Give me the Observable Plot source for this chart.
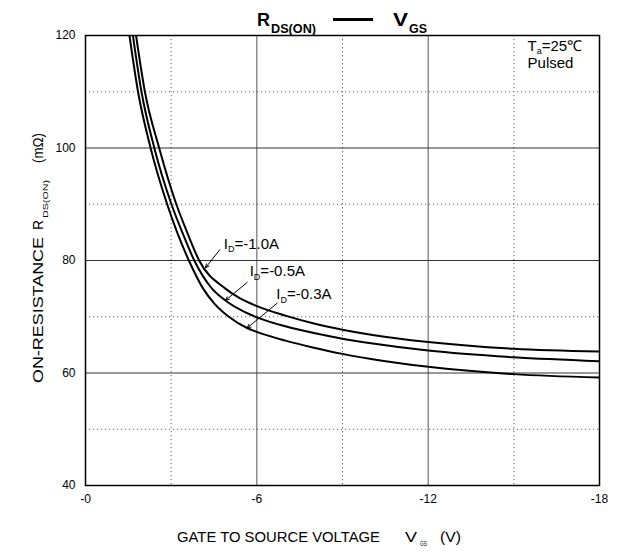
<!DOCTYPE html>
<html><head><meta charset="utf-8">
<script src="https://cdn.jsdelivr.net/npm/d3@7"></script>
<script src="https://cdn.jsdelivr.net/npm/@observablehq/plot@0.6"></script>
<style>
body{margin:0;background:#fff;font-family:"Liberation Sans",Arial,sans-serif;}
#wrap{position:relative;width:622px;height:552px;overflow:hidden;background:#fff}
#chart{position:absolute;left:0;top:20px}
#overlay{position:absolute;left:0;top:0;pointer-events:none}
</style></head><body>
<div id="wrap">
<div id="chart"></div>
<svg id="overlay" width="622" height="552" font-family="Liberation Sans, Arial, sans-serif">
  <text x="257" y="26" font-size="19" font-weight="bold" textLength="13" lengthAdjust="spacingAndGlyphs">R</text>
  <text x="271" y="32.5" font-size="12" font-weight="bold" textLength="45" lengthAdjust="spacingAndGlyphs">DS(ON)</text>
  <line x1="333" x2="373" y1="19.5" y2="19.5" stroke="black" stroke-width="3"></line>
  <text x="393" y="26" font-size="19" font-weight="bold" textLength="15" lengthAdjust="spacingAndGlyphs">V</text>
  <text x="409" y="32.5" font-size="12" font-weight="bold" textLength="18" lengthAdjust="spacingAndGlyphs">GS</text>

  <text x="177" y="542" font-size="15" textLength="203" lengthAdjust="spacingAndGlyphs">GATE TO SOURCE VOLTAGE</text>
  <text x="405" y="542" font-size="15" textLength="12" lengthAdjust="spacingAndGlyphs">V</text>
  <text x="420" y="546" font-size="7" textLength="7" lengthAdjust="spacingAndGlyphs">GS</text>
  <text x="440" y="542" font-size="15" textLength="21" lengthAdjust="spacingAndGlyphs">(V)</text>

  <text transform="translate(43,383) rotate(-90)" font-size="15" textLength="146" lengthAdjust="spacingAndGlyphs">ON-RESISTANCE</text>
  <text transform="translate(43,230) rotate(-90)" font-size="15" textLength="10" lengthAdjust="spacingAndGlyphs">R</text>
  <text transform="translate(47.5,218) rotate(-90)" font-size="8" textLength="38" lengthAdjust="spacingAndGlyphs">DS(ON)</text>
  <text transform="translate(43,163) rotate(-90)" font-size="15" textLength="30" lengthAdjust="spacingAndGlyphs">(mΩ)</text>
</svg>
</div>
<script>
// Gate-source voltage (V) and on-resistance (mΩ) for each drain current
const vgs_1_0 = [-1.77, -2.08, -2.58, -3.18, -3.56, -3.98, -4.9, -5.4, -6, -7, -8, -9, -10, -12, -15, -18];
const rds_1_0 = [120, 110, 100, 90, 85, 80, 75, 73.3, 71.9, 70.2, 68.8, 67.7, 66.8, 65.5, 64.3, 63.8];
const vgs_0_5 = [-1.66, -1.96, -2.41, -3.01, -3.39, -3.81, -4.43, -4.9, -5.4, -6, -7, -8, -9, -10, -12, -15, -18];
const rds_0_5 = [120, 110, 100, 90, 85, 80, 75, 72.9, 71.3, 69.9, 68.3, 67.1, 66.1, 65.3, 64.0, 62.8, 62.1];
const vgs_0_3 = [-1.54, -1.84, -2.28, -2.86, -3.21, -3.62, -4.12, -4.52, -5.02, -5.66, -6, -7, -8, -9, -10, -12, -15, -18];
const rds_0_3 = [120, 110, 100, 90, 85, 80, 75, 72.3, 70, 68.0, 67.3, 65.75, 64.5, 63.4, 62.5, 61.1, 59.8, 59.2];

const seriesNames = ["ID=-1.0A", "ID=-0.5A", "ID=-0.3A"];
const xTicks = [0, -6, -12, -18];
const xMinor = [-3, -9, -15];
const xMajorGrid = [-6, -12];
const yTicks = [40, 60, 80, 100, 120];
const yMinor = [50, 70, 90, 110];
const yMajorGrid = [60, 80, 100];

// curve labels (data coordinates)
const labelText = ["I_{D}=-1.0A", "I_{D}=-0.5A", "I_{D}=-0.3A"];
const labelX = [-4.84, -5.75, -6.68];
const labelY = [82.1, 77.2, 73.2];
const arrowX1 = [-4.70, -5.66, -6.71];
const arrowY1 = [81.9, 76.1, 72.4];
const arrowX2 = [-4.20, -4.90, -5.66];
const arrowY2 = [78.7, 72.9, 68.0];

const condText = ["T_{a}=25℃", "Pulsed"];
const condX = [-15.48, -15.48];
const condY = [117.3, 114.3];

const seriesX = [vgs_1_0, vgs_0_5, vgs_0_3];
const seriesY = [rds_1_0, rds_0_5, rds_0_3];
const rows = seriesNames.flatMap((name, k) =>
  d3.sort(seriesX[k].map((v, i) => ({id: name, vgs: v, rds: seriesY[k][i]})), d => d.vgs));
const labels = labelText.map((t, i) => ({t, x: labelX[i], y: labelY[i]}));
const arrows = arrowX1.map((_, i) => ({x1: arrowX1[i], y1: arrowY1[i], x2: arrowX2[i], y2: arrowY2[i]}));
const conds = condText.map((t, i) => ({t, x: condX[i], y: condY[i]}));

const chart = Plot.plot({
  width: 622,
  height: 495,
  marginLeft: 85,
  marginRight: 23,
  marginTop: 15,
  marginBottom: 30,
  style: {fontFamily: "Liberation Sans, Arial, sans-serif", fontSize: "12px", color: "black", background: "white", overflow: "visible"},
  x: {domain: [0, -18], ticks: xTicks, tickFormat: d => d === 0 ? "-0" : String(d), tickSize: 0, tickPadding: 9, label: null},
  y: {domain: [40, 120], ticks: yTicks, tickFormat: d => String(d), tickSize: 0, tickPadding: 10, label: null},
  marks: [
    Plot.ruleX(xMinor, {stroke: "#666", strokeWidth: 1, strokeDasharray: "1.2,2.8"}),
    Plot.ruleY(yMinor, {stroke: "#666", strokeWidth: 1, strokeDasharray: "1.2,2.8"}),
    Plot.ruleX(xMajorGrid, {stroke: "#555", strokeWidth: 1}),
    Plot.ruleY(yMajorGrid, {stroke: "#333", strokeWidth: 1}),
    Plot.line(rows, {x: "vgs", y: "rds", z: "id", curve: "monotone-x", stroke: "black", strokeWidth: 2, clip: true}),
    Plot.arrow(arrows, {x1: "x1", y1: "y1", x2: "x2", y2: "y2", stroke: "black", strokeWidth: 1, headLength: 6, headAngle: 50}),
    Plot.text(labels, {x: "x", y: "y", text: "t", textAnchor: "start", lineAnchor: "bottom", fontSize: 15, fill: "black"}),
    Plot.text(conds, {x: "x", y: "y", text: "t", textAnchor: "start", lineAnchor: "bottom", fontSize: 15, fill: "black"}),
    Plot.frame({stroke: "black", strokeWidth: 1.5})
  ]
});

// turn "_{...}" into subscripts
d3.select(chart).selectAll("text").each(function() {
  const t = this.textContent;
  const m = t.match(/^(.*)_\{(.*?)\}(.*)$/);
  if (!m) return;
  const fs = parseFloat(d3.select(this.parentNode).attr("font-size")) || 15;
  const sel = d3.select(this);
  sel.text(null);
  sel.append("tspan").text(m[1]);
  sel.append("tspan").attr("font-size", Math.round(fs * 0.6)).attr("dy", fs * 0.25).text(m[2]);
  sel.append("tspan").attr("dy", -fs * 0.25).text(m[3]);
});

document.getElementById("chart").appendChild(chart);
</script>
</body></html>
